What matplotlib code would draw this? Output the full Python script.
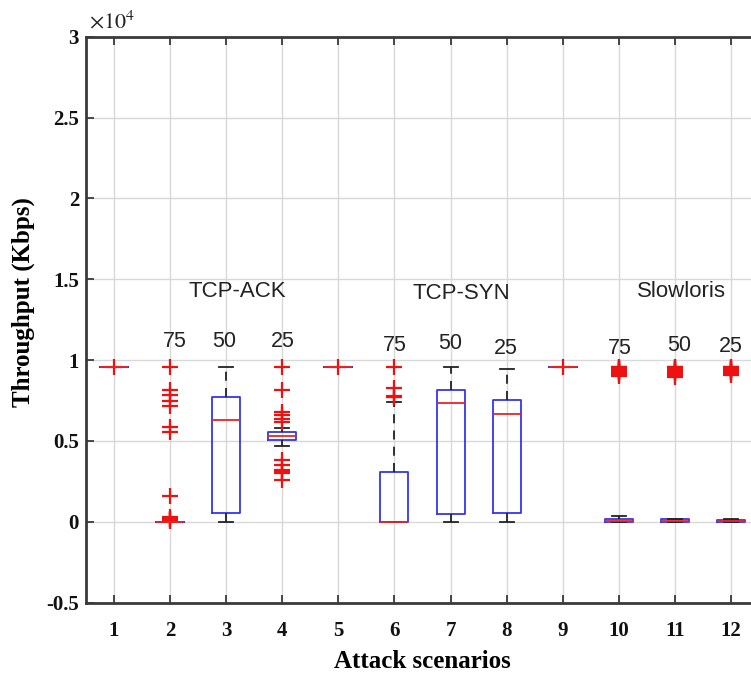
import matplotlib
matplotlib.use("Agg")
import matplotlib.pyplot as plt
from matplotlib.ticker import FuncFormatter, FixedLocator

plt.rcParams['mathtext.fontset'] = 'stix'

# ---- data (Kbps) ----
scenarios = list(range(1, 13))
whislo = [9550, 0,    0,    4660, 9550, 0,    0,    0,    9550, 0,   0,   0]
q1     = [9550, 0,    520,  5070, 9550, 0,    480,  520,  9550, 0,   0,   0]
med    = [9550, 0,    6270, 5320, 9550, 0,    7340, 6640, 9550, 40,  40,  40]
q3     = [9550, 0,    7720, 5540, 9550, 3060, 8170, 7510, 9550, 150, 150, 130]
whishi = [9550, 0,    9560, 5800, 9550, 7400, 9560, 9480, 9550, 350, 200, 180]
fliers_1 = [9550]
fliers_2 = [9550, 8130, 7820, 7470, 7140, 5850, 5540, 1610, 300, 200, 150, 100, 50]
fliers_3 = []
fliers_4 = [9550, 8130, 6780, 6580, 6370, 6160, 3820, 3510, 3200, 3100, 3040, 2580]
fliers_5 = [9550]
fliers_6 = [9560, 8260, 7800, 7750, 7700]
fliers_7 = []
fliers_8 = []
fliers_9 = [9550]
fliers_10 = [9600, 9560, 9520, 9480, 9440, 9400, 9360, 9320, 9280, 9240, 9200, 9100, 9000]
fliers_11 = [9600, 9560, 9520, 9480, 9440, 9400, 9360, 9320, 9280, 9240, 9200, 9050, 8970]
fliers_12 = [9600, 9560, 9520, 9480, 9440, 9400, 9360, 9320, 9280, 9240, 9200, 9100]
fliers = [fliers_1, fliers_2, fliers_3, fliers_4, fliers_5, fliers_6,
          fliers_7, fliers_8, fliers_9, fliers_10, fliers_11, fliers_12]

attack_names = ["TCP-ACK", "TCP-SYN", "Slowloris"]
attack_name_pos = [(3.2, 14230), (7.2, 14130), (11.12, 14230)]
rate_labels = ["75", "50", "25", "75", "50", "25", "75", "50", "25"]
rate_label_pos = [(2.08, 11140), (2.97, 11140), (4.01, 11140),
                  (6.01, 10930), (6.99, 11000), (7.98, 10730),
                  (10.02, 10730), (11.07, 10930), (11.99, 10830)]

yticks = [-5000, 0, 5000, 10000, 15000, 20000, 25000, 30000]

# ---- figure ----
W, H = 751, 674
fig = plt.figure(figsize=(W / 100, H / 100), dpi=100)
left, right, bottom, top = 86 / W, 759 / W, (H - 602.7) / H, 1 - 36.7 / H
ax = fig.add_axes([left, bottom, right - left, top - bottom])

stats = []
for i in range(12):
    stats.append(dict(med=med[i], q1=q1[i], q3=q3[i], whislo=whislo[i],
                      whishi=whishi[i], fliers=fliers[i]))

ax.bxp(stats, positions=scenarios, widths=0.5, showfliers=True,
       boxprops=dict(color='#3535ee', linewidth=1.3),
       medianprops=dict(color='#ee2222', linewidth=1.3),
       whiskerprops=dict(color='#222222', linewidth=1.3, linestyle=(0, (5, 4))),
       capprops=dict(color='#222222', linewidth=1.3),
       flierprops=dict(marker='+', markeredgecolor='#ee1111', markersize=11,
                       markeredgewidth=1.6, linestyle='none'),
       capwidths=0.25)

ax.set_xlim(0.5, 12.5)
ax.set_ylim(-5000, 30000)
ax.yaxis.set_major_locator(FixedLocator(yticks))
ax.yaxis.set_major_formatter(FuncFormatter(lambda v, p: '%g' % (v / 1e4)))
ax.set_xticks(scenarios)
ax.set_xticklabels([str(s) for s in scenarios])

ax.grid(True, color='#d8d8d8', linewidth=1.0)
ax.set_axisbelow(True)
for s in ['left', 'bottom', 'top']:
    ax.spines[s].set_color('#3a3a3a')
    ax.spines[s].set_linewidth(2.0)
ax.spines['right'].set_visible(False)
ax.tick_params(direction='in', length=6, width=1.3, color='#3a3a3a',
               top=True, right=False)
ax.tick_params(axis='x', pad=13)
ax.tick_params(axis='y', pad=5)
for lab in ax.get_xticklabels() + ax.get_yticklabels():
    lab.set_fontfamily('Liberation Serif')
    lab.set_fontweight('bold')
    lab.set_fontsize(15)
    lab.set_color('#111111')

ax.set_xlabel('Attack scenarios', fontfamily='Liberation Serif', fontweight='bold',
              fontsize=18, labelpad=7)
ax.set_ylabel('Throughput (Kbps)', fontfamily='Liberation Serif', fontweight='bold',
              fontsize=18)
ax.yaxis.set_label_coords(-0.076, 0.531)

ax.text(0.005, 1.008, r'$\times 10^{4}$', transform=ax.transAxes, fontsize=16,
        ha='left', va='bottom', color='#222222')

for name, (x, y) in zip(attack_names, attack_name_pos):
    ax.text(x, y, name, ha='center', va='center', fontsize=16,
            fontfamily='Liberation Sans', color='#222222')
for lab, (x, y) in zip(rate_labels, rate_label_pos):
    ax.text(x, y, lab, ha='center', va='center', fontsize=15.5,
            fontfamily='Liberation Sans', color='#222222')

fig.savefig('out.png', dpi=100)
